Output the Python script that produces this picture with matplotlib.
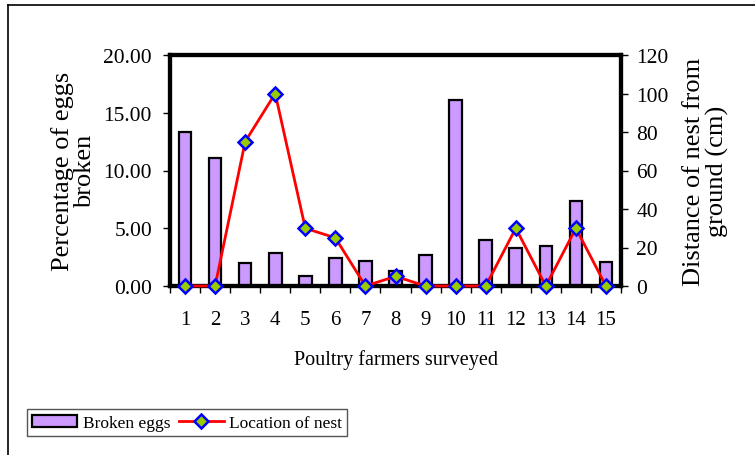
import matplotlib.pyplot as plt
import numpy as np
from matplotlib.lines import Line2D

plt.rcParams['font.family'] = ['Liberation Serif', 'DejaVu Serif']

farmers = [str(i) for i in range(1, 16)]
broken_eggs = [13.3, 11.1, 2.0, 2.9, 0.9, 2.4, 2.2, 1.3, 2.7, 16.1, 4.0, 3.3, 3.5, 7.4, 2.1]
nest_height = [0, 0, 75, 100, 30, 25, 0, 5, 0, 0, 0, 30, 0, 30, 0]

fig = plt.figure(figsize=(7.55, 4.56), dpi=100)
ax = fig.add_axes([170 / 755, 1 - 287 / 456, (621 - 170) / 755, (287 - 56) / 456])
ax2 = ax.twinx()

x = np.arange(len(farmers))
bars = ax.bar(x, broken_eggs, width=0.42, color='#CC99FF', edgecolor='black',
              linewidth=1.6, zorder=2, label='Broken eggs')
ax.set_xlim(-0.5, len(farmers) - 0.5)
ax.set_ylim(0, 20)
ax.set_yticks(np.arange(0, 20.1, 5))
ax.set_yticklabels(['%.2f' % v for v in np.arange(0, 20.1, 5)])

ax2.plot(x, nest_height, color='red', lw=2, marker='D', markersize=7,
         markerfacecolor='#99CC00', markeredgecolor='blue', markeredgewidth=1.8,
         zorder=3, clip_on=False, label='Location of nest')
ax2.set_ylim(0, 120)
ax2.set_yticks(np.arange(0, 121, 20))

# x ticks at category boundaries, labels centred
ax.set_xticks(np.arange(-0.5, len(farmers), 1))
ax.set_xticklabels([])
ax.set_xticks(x, minor=True)
ax.set_xticklabels(farmers, minor=True)
ax.tick_params(axis='x', which='major', length=5, width=1, direction='out')
ax.tick_params(axis='x', which='minor', length=0, pad=17, labelsize=15)
ax.tick_params(axis='y', length=5, width=1, labelsize=15.5, pad=8)
ax2.tick_params(axis='y', length=5, width=1, labelsize=15.5, pad=6)

for a in (ax, ax2):
    for s in a.spines.values():
        s.set_linewidth(3)

ax.set_ylabel('Percentage of eggs\nbroken', fontsize=19, labelpad=5, linespacing=1.05)
ax2.set_ylabel('Distance of nest from\nground (cm)', fontsize=19, labelpad=10, linespacing=1.05)
ax.set_xlabel('Poultry farmers surveyed', fontsize=14.5, labelpad=15)

# legend at bottom left
handles = [bars, Line2D([], [], color='red', lw=2, marker='D', markersize=7,
                         markerfacecolor='#99CC00', markeredgecolor='blue', markeredgewidth=1.8)]
leg = fig.legend(handles, ['Broken eggs', 'Location of nest'], loc='lower left',
                 bbox_to_anchor=(27 / 755, 1 - 437 / 456), ncol=2, fontsize=12.5,
                 frameon=True, fancybox=False, edgecolor='#555555', framealpha=1,
                 handlelength=2.6, handletextpad=0.3, columnspacing=0.5,
                 borderpad=0.3, borderaxespad=0)
leg.get_frame().set_linewidth(1)

# outer border (left and top edges visible)
fig.add_artist(Line2D([8 / 755, 8 / 755], [0, 1 - 6 / 456], color='black', lw=1.2,
                      transform=fig.transFigure))
fig.add_artist(Line2D([8 / 755, 1], [1 - 6 / 456, 1 - 6 / 456], color='black', lw=1.2,
                      transform=fig.transFigure))

fig.savefig('out.png', dpi=100)
